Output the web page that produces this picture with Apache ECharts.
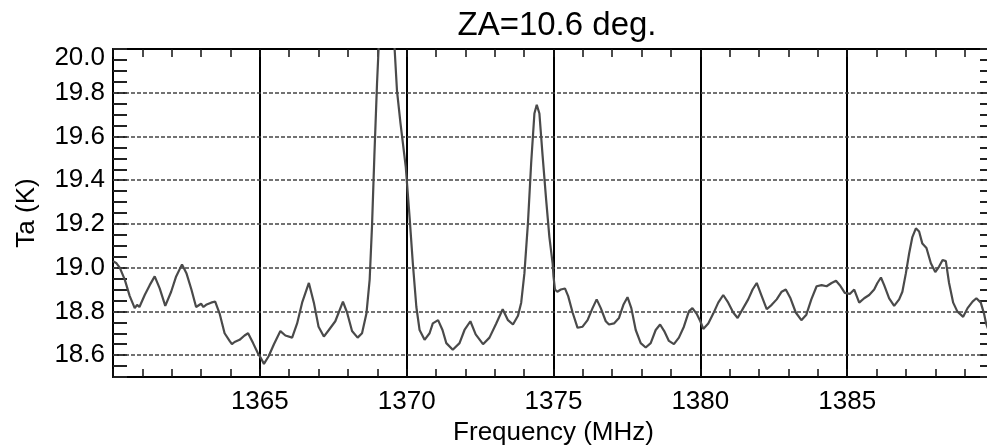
<!DOCTYPE html>
<html>
<head>
<meta charset="utf-8">
<script src="https://cdn.jsdelivr.net/npm/echarts@6/dist/echarts.min.js"></script>
<style>
  html, body { margin: 0; padding: 0; background: #fff; }
  #chart { width: 987px; height: 446px; }
</style>
</head>
<body>
<div id="chart"></div>
<script>
// spectrum: frequency (MHz) and antenna temperature (K)
const freq = [
  1360.00, 1360.12, 1360.23, 1360.40, 1360.57, 1360.74, 1360.82, 1360.90, 1361.08, 1361.25,
  1361.42, 1361.59, 1361.78, 1361.98, 1362.15, 1362.35, 1362.50, 1362.67, 1362.83, 1363.00,
  1363.08, 1363.17, 1363.34, 1363.48, 1363.63, 1363.80, 1363.97, 1364.05, 1364.14, 1364.31,
  1364.48, 1364.60, 1364.77, 1364.93, 1365.02, 1365.14, 1365.30, 1365.48, 1365.70, 1365.87,
  1366.10, 1366.27, 1366.44, 1366.67, 1366.84, 1367.00, 1367.18, 1367.35, 1367.57, 1367.83,
  1367.97, 1368.14, 1368.33, 1368.48, 1368.63, 1368.74, 1368.82, 1368.90, 1368.99, 1369.05,
  1369.15, 1369.30, 1369.45, 1369.59, 1369.67, 1369.79, 1369.97, 1370.10, 1370.21, 1370.33,
  1370.44, 1370.61, 1370.78, 1370.89, 1371.07, 1371.22, 1371.35, 1371.57, 1371.80, 1371.97,
  1372.17, 1372.35, 1372.60, 1372.82, 1373.05, 1373.27, 1373.45, 1373.62, 1373.79, 1373.90,
  1374.01, 1374.13, 1374.24, 1374.35, 1374.43, 1374.52, 1374.63, 1374.75, 1374.86, 1374.97,
  1375.00, 1375.05, 1375.13, 1375.25, 1375.39, 1375.50, 1375.65, 1375.82, 1375.99, 1376.16,
  1376.33, 1376.47, 1376.61, 1376.78, 1376.89, 1377.06, 1377.23, 1377.38, 1377.52, 1377.65,
  1377.80, 1377.97, 1378.14, 1378.31, 1378.48, 1378.63, 1378.77, 1378.93, 1379.10, 1379.27,
  1379.44, 1379.61, 1379.73, 1379.87, 1380.00, 1380.10, 1380.27, 1380.44, 1380.61, 1380.78,
  1380.95, 1381.12, 1381.27, 1381.46, 1381.63, 1381.78, 1381.92, 1382.09, 1382.26, 1382.43,
  1382.60, 1382.77, 1382.91, 1383.07, 1383.25, 1383.44, 1383.61, 1383.78, 1383.96, 1384.13,
  1384.30, 1384.47, 1384.62, 1384.75, 1384.92, 1385.09, 1385.24, 1385.41, 1385.58, 1385.75,
  1385.92, 1386.03, 1386.15, 1386.26, 1386.43, 1386.60, 1386.77, 1386.88, 1387.00, 1387.11,
  1387.22, 1387.34, 1387.45, 1387.56, 1387.70, 1387.85, 1388.00, 1388.13, 1388.25, 1388.36,
  1388.47, 1388.61, 1388.75, 1388.95, 1389.10, 1389.27, 1389.40, 1389.55, 1389.66, 1389.73,
  1389.85
]
const temp = [
  19.030, 19.020, 19.000, 18.945, 18.870, 18.815, 18.830, 18.820, 18.875, 18.920,
  18.960, 18.905, 18.825, 18.890, 18.960, 19.015, 18.975, 18.900, 18.820, 18.835,
  18.820, 18.830, 18.840, 18.845, 18.790, 18.700, 18.665, 18.650, 18.660, 18.670,
  18.690, 18.700, 18.655, 18.610, 18.590, 18.560, 18.595, 18.650, 18.710, 18.690,
  18.680, 18.745, 18.840, 18.930, 18.840, 18.730, 18.685, 18.715, 18.755, 18.845,
  18.795, 18.710, 18.680, 18.700, 18.790, 18.945, 19.190, 19.510, 19.840, 20.020,
  20.350, 20.600, 20.350, 20.000, 19.810, 19.660, 19.460, 19.230, 19.020, 18.820,
  18.715, 18.670, 18.700, 18.745, 18.760, 18.715, 18.655, 18.625, 18.655, 18.715,
  18.755, 18.695, 18.650, 18.680, 18.745, 18.810, 18.760, 18.740, 18.780, 18.840,
  18.975, 19.205, 19.480, 19.705, 19.745, 19.705, 19.510, 19.310, 19.140, 19.020,
  18.960, 18.900, 18.890, 18.900, 18.905, 18.870, 18.795, 18.725, 18.730, 18.760,
  18.815, 18.855, 18.815, 18.755, 18.740, 18.745, 18.770, 18.830, 18.865, 18.815,
  18.715, 18.655, 18.635, 18.655, 18.715, 18.740, 18.710, 18.665, 18.650, 18.680,
  18.730, 18.800, 18.815, 18.790, 18.755, 18.720, 18.745, 18.790, 18.840, 18.875,
  18.840, 18.795, 18.770, 18.815, 18.855, 18.900, 18.930, 18.870, 18.810, 18.830,
  18.855, 18.890, 18.900, 18.860, 18.795, 18.760, 18.785, 18.855, 18.915, 18.920,
  18.915, 18.930, 18.940, 18.920, 18.885, 18.880, 18.900, 18.840, 18.860, 18.875,
  18.900, 18.930, 18.955, 18.920, 18.860, 18.825, 18.855, 18.890, 18.975, 19.065,
  19.140, 19.180, 19.165, 19.110, 19.090, 19.020, 18.980, 19.005, 19.035, 19.030,
  18.930, 18.840, 18.800, 18.775, 18.815, 18.845, 18.860, 18.840, 18.790, 18.745,
  18.700
]
const gridTemps = [18.6, 18.8, 19.0, 19.2, 19.4, 19.6, 19.8]
const yLabels = ['18.6', '18.8', '19.0', '19.2', '19.4', '19.6', '19.8', '20.0']
const xLabels = [1365, 1370, 1375, 1380, 1385]

const font = 'Liberation Sans'
const frame = { show: true, lineStyle: { color: '#000', width: 2 } }

function xAxisOf(pos, withLabels) {
  return {
    type: 'value',
    position: pos,
    min: 1360,
    max: 1390,
    interval: 5,
    axisLine: frame,
    axisTick: { show: true, inside: true, length: 8, lineStyle: { color: '#111', width: 1.5 } },
    minorTick: { show: true, splitNumber: 5, length: 8, lineStyle: { color: '#111', width: 1.5 } },
    splitLine: { show: withLabels, lineStyle: { color: '#000', width: 2 } },
    axisLabel: {
      show: withLabels,
      margin: 12,
      color: '#000',
      fontFamily: font,
      fontSize: 26,
      formatter: v => xLabels.includes(Math.round(v)) ? String(Math.round(v)) : ''
    },
    name: withLabels ? 'Frequency (MHz)' : '',
    nameLocation: 'middle',
    nameGap: 39,
    nameTextStyle: { color: '#000', fontFamily: font, fontSize: 26 }
  }
}

function yAxisOf(pos, withLabels) {
  return {
    type: 'value',
    position: pos,
    min: 18.5,
    max: 20.0,
    interval: 0.1,
    axisLine: frame,
    axisTick: { show: true, inside: true, length: 14, lineStyle: { color: '#222', width: 2 } },
    minorTick: { show: true, splitNumber: 2, length: 14, lineStyle: { color: '#222', width: 2 } },
    splitLine: { show: false },
    axisLabel: {
      show: withLabels,
      margin: 8,
      color: '#000',
      fontFamily: font,
      fontSize: 26,
      formatter: v => {
        let s = v.toFixed(1)
        if (!yLabels.includes(s)) return ''
        // top label sits just under the frame, as in the original
        return s === '20.0' ? '{top|' + s + '}' : s
      },
      rich: {
        top: { padding: [18, 0, 0, 0], color: '#000', fontFamily: font, fontSize: 26 }
      }
    },
    name: withLabels ? 'Ta (K)' : '',
    nameLocation: 'middle',
    nameRotate: 90,
    nameGap: 73,
    nameTextStyle: { color: '#000', fontFamily: font, fontSize: 26 }
  }
}

let chart = echarts.init(document.getElementById('chart'))
let option = {
  animation: false,
  backgroundColor: '#fff',
  title: {
    text: 'ZA=10.6 deg.',
    left: 552,
    top: 4,
    textAlign: 'center',
    textStyle: { color: '#000', fontFamily: font, fontSize: 33, fontWeight: 'normal' }
  },
  grid: { left: 113, top: 49, width: 881, height: 328, outerBoundsMode: 'none' },
  xAxis: [xAxisOf('bottom', true), xAxisOf('top', false)],
  yAxis: [yAxisOf('left', true), yAxisOf('right', false)],
  series: [
    {
      // dashed horizontal grid
      type: 'line',
      data: [],
      silent: true,
      markLine: {
        z: 1,
        silent: true,
        symbol: 'none',
        label: { show: false },
        lineStyle: { color: '#444', width: 1.5, type: [4, 2] },
        data: gridTemps.map(t => ({ yAxis: t }))
      }
    },
    {
      type: 'line',
      z: 3,
      showSymbol: false,
      clip: true,
      lineStyle: { color: '#4a4a4a', width: 2.2 },
      data: freq.map((f, i) => [f, temp[i]])
    }
  ]
}
chart.setOption(option)
</script>
</body>
</html>
